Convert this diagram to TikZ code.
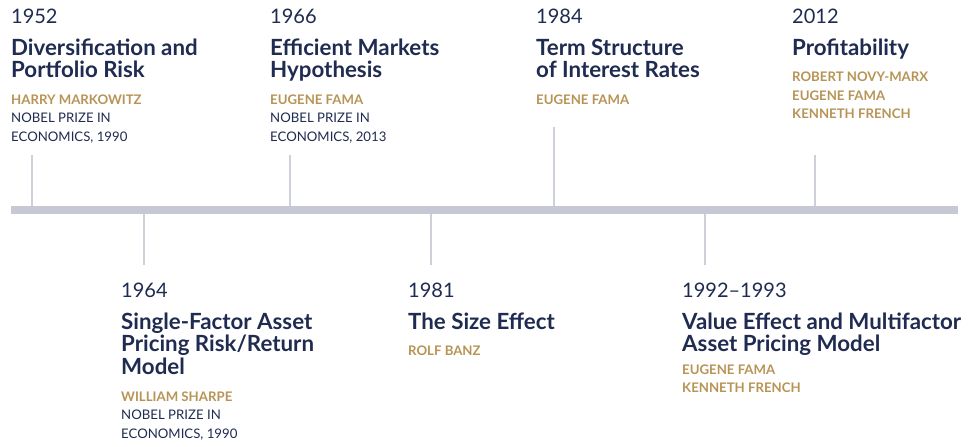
\documentclass[tikz,border=0pt]{standalone}
\usepackage{fontspec}
\setmainfont{Lato}
\definecolor{navy}{HTML}{1F2B50}
\definecolor{gold}{HTML}{B79456}
\definecolor{barc}{HTML}{C6C9D3}
\definecolor{tickc}{HTML}{CDD0DA}
\newcommand{\Lines}[2]{\vtop{\baselineskip=#1\lineskiplimit=-20pt\lineskip=0pt\relax #2}}
\newcommand{\Ln}[1]{\hbox{#1}}
\newcommand{\Gn}[1]{\hbox{\color{gold}\bfseries #1}}
\tikzset{
  yr/.style={anchor=base west, inner sep=0pt, text=navy, font=\fontsize{20}{22}\selectfont},
  ttl/.style={anchor=base west, inner sep=0pt, text=navy, font=\fontsize{22.3}{22.5}\selectfont\bfseries},
  nm/.style={anchor=base west, inner sep=0pt, text=navy, font=\fontsize{13.2}{18.5}\selectfont},
  tick/.style={draw=tickc, line width=2pt},
}
\begin{document}
\begin{tikzpicture}[x=1pt,y=-1pt]
\useasboundingbox (0,0) rectangle (975,447);
% bar
\fill[barc] (11,206) rectangle (958,213.5);
\coordinate (b1952) at (32,206);   \coordinate (t1952) at (32,155);
\coordinate (b1966) at (290,206);  \coordinate (t1966) at (290,155);
\coordinate (b1984) at (554,206);  \coordinate (t1984) at (554,127);
\coordinate (b2012) at (815,206);  \coordinate (t2012) at (815,155);
\coordinate (b1964) at (144,213.5);\coordinate (t1964) at (144,265);
\coordinate (b1981) at (431,213.5);\coordinate (t1981) at (431,265);
\coordinate (b1992) at (705,213.5);\coordinate (t1992) at (705,265);
\foreach \n in {1952,1966,1984,2012,1964,1981,1992} \draw[tick] (b\n) -- (t\n);

% 1952
\node[yr] (y1952) at (11,23.5) {1952};
\node[ttl] (h1952) at (11,55) {\Lines{22.5pt}{\Ln{Diversification and}\Ln{Portfolio Risk}}};
\node[nm] (n1952) at (11,104) {\Lines{18.5pt}{\Gn{HARRY MARKOWITZ}\Ln{NOBEL PRIZE IN}\Ln{ECONOMICS, 1990}}};
% 1966
\node[yr] (y1966) at (270,23.5) {1966};
\node[ttl] (h1966) at (270,55) {\Lines{22.5pt}{\Ln{Efficient Markets}\Ln{Hypothesis}}};
\node[nm] (n1966) at (270,104) {\Lines{18.5pt}{\Gn{EUGENE FAMA}\Ln{NOBEL PRIZE IN}\Ln{ECONOMICS, 2013}}};
% 1984
\node[yr] (y1984) at (536,23.5) {1984};
\node[ttl] (h1984) at (536,55) {\Lines{22.5pt}{\Ln{Term Structure}\Ln{of Interest Rates}}};
\node[nm] (n1984) at (536,104) {\Lines{18.5pt}{\Gn{EUGENE FAMA}}};
% 2012
\node[yr] (y2012) at (792,23.5) {2012};
\node[ttl] (h2012) at (792,55) {\Lines{22.5pt}{\Ln{Profitability}}};
\node[nm] (n2012) at (792,81.5) {\Lines{18.5pt}{\Gn{ROBERT NOVY-MARX}\Gn{EUGENE FAMA}\Gn{KENNETH FRENCH}}};
% 1964
\node[yr] (y1964) at (121,297.5) {1964};
\node[ttl] (h1964) at (121,329) {\Lines{22.5pt}{\Ln{Single-Factor Asset}\Ln{Pricing Risk/Return}\Ln{Model}}};
\node[nm] (n1964) at (121,401) {\Lines{18.5pt}{\Gn{WILLIAM SHARPE}\Ln{NOBEL PRIZE IN}\Ln{ECONOMICS, 1990}}};
% 1981
\node[yr] (y1981) at (408,297.5) {1981};
\node[ttl] (h1981) at (408,329) {\Lines{22.5pt}{\Ln{The Size Effect}}};
\node[nm] (n1981) at (408,355) {\Lines{18.5pt}{\Gn{ROLF BANZ}}};
% 1992
\node[yr] (y1992) at (682,297.5) {1992–1993};
\node[ttl] (h1992) at (682,329) {\Lines{22.5pt}{\Ln{Value Effect and Multifactor}\Ln{Asset Pricing Model}}};
\node[nm] (n1992) at (682,374) {\Lines{18.5pt}{\Gn{EUGENE FAMA}\Gn{KENNETH FRENCH}}};
\end{tikzpicture}
\end{document}
